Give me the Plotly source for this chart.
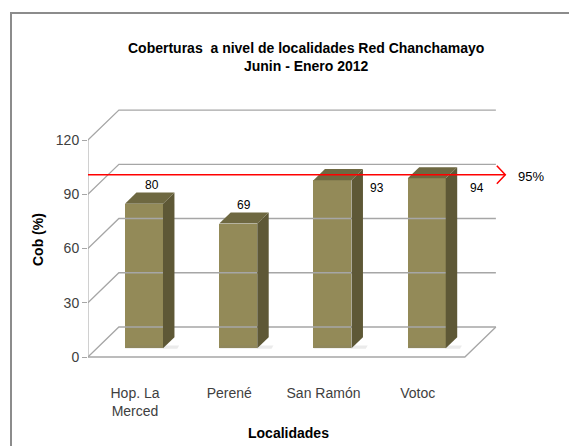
import plotly.graph_objects as go

# ---------------- data ----------------
categories = ["Hop. La<br>Merced", "Perené", "San Ramón", "Votoc"]
values = [80, 69, 93, 94]
target = 95
y_ticks = [0, 30, 60, 90, 120]
title_lines = ["Coberturas  a nivel de localidades Red Chanchamayo", "Junin - Enero 2012"]

# ---------------- geometry (pixel design -> data units) ----------------
OFF = 8                                  # page body margin
W, H = 577 - OFF, 446 - OFF
L, R, T, B = 88 - OFF, 560 - OFF, 100 - OFF, 360 - OFF   # plot area in figure pixels
PX_X = 94.25                            # pixels per category
PX_Y = 1.808                            # pixels per y unit
X0_PIX, Y0_PIX = 135 - OFF, 357 - OFF   # pixel of x=0, y=0
xr = [(L - X0_PIX) / PX_X, (R - X0_PIX) / PX_X]
yr = [(Y0_PIX - B) / PX_Y, (Y0_PIX - T) / PX_Y]
dX = 31 / PX_X                          # wall depth in x units
dY = 30 / PX_Y                          # wall depth in y units
f0, f1 = 0.29, 0.66                     # bar depth span
bw = 38 / PX_X                          # bar width
ymax = y_ticks[-1]
n = len(categories)
xl, xrt = -0.5, n - 0.5

FRONT = "#938A58"
SIDE = "#5E5836"
TOP = "#6E6841"
GRID = "#A6A6A6"
FONT = "Liberation Sans Narrow, Arial Narrow, Liberation Sans, Arial"


def px(xp):
    return (xp - OFF - L) / (R - L)


def py(yp):
    return (B - (yp - OFF)) / (B - T)


fig = go.Figure()


def line(xs, ys, color=GRID, width=1.3):
    fig.add_trace(go.Scatter(x=xs, y=ys, mode="lines", line=dict(color=color, width=width),
                             hoverinfo="skip", showlegend=False))


# walls / gridlines
for v in y_ticks:
    line([xl, xl + dX, xrt + dX], [v, v + dY, v + dY])
line([xl, xrt, xrt + dX], [0, 0, dY])
line([xl, xl], [0, ymax])

# bar shadows (soft)
for i, v in enumerate(values):
    xs = [i - bw / 2 + f0 * dX, i + bw / 2 + f1 * dX + 0.03, i + bw / 2 + f1 * dX + 0.05,
          i - bw / 2 + f0 * dX + 0.02]
    ys = [f0 * dY - 0.3, f0 * dY - 0.3, f0 * dY + 1.5, f0 * dY + 1.5]
    fig.add_trace(go.Scatter(x=xs, y=ys, fill="toself", mode="lines", line=dict(width=0),
                             fillcolor="rgba(120,120,120,0.15)", hoverinfo="skip", showlegend=False))

# bar front faces
fig.add_trace(go.Bar(x=[i + f0 * dX for i in range(n)], y=values, base=[f0 * dY] * n,
                     width=bw, marker=dict(color=FRONT, line=dict(width=0)),
                     hoverinfo="skip", showlegend=False))

# side and top faces
for i, v in enumerate(values):
    xa = i - bw / 2
    xb = i + bw / 2
    side_x = [xb + f0 * dX, xb + f1 * dX, xb + f1 * dX, xb + f0 * dX]
    side_y = [f0 * dY, f1 * dY, v + f1 * dY, v + f0 * dY]
    fig.add_trace(go.Scatter(x=side_x, y=side_y, fill="toself", mode="lines", line=dict(width=0),
                             fillcolor=SIDE, hoverinfo="skip", showlegend=False))
    top_x = [xa + f0 * dX, xa + f1 * dX, xb + f1 * dX, xb + f0 * dX]
    top_y = [v + f0 * dY, v + f1 * dY, v + f1 * dY, v + f0 * dY]
    fig.add_trace(go.Scatter(x=top_x, y=top_y, fill="toself", mode="lines", line=dict(width=0),
                             fillcolor=TOP, hoverinfo="skip", showlegend=False))

# target red line with open arrow
ty = target + 0.35 * dY
tx_end = xrt + dX + 0.1
line([xl, tx_end], [ty, ty], color="#FF0000", width=1.5)
line([tx_end - 0.09, tx_end, tx_end - 0.09], [ty + 5, ty, ty - 5], color="#FF0000", width=1.5)

annotations = []
annotations.append(dict(x=tx_end + 0.11, y=ty - 1, text=f"{target}%", showarrow=False,
                        xanchor="left", yanchor="middle",
                        font=dict(size=13, color="#000", family="Liberation Sans, Arial")))

# data labels
label_offsets = [(0.18, 15), (0.16, 15), (0.57, 0.5), (0.63, -0.5)]
for i, v in enumerate(values):
    ox, oy = label_offsets[i]
    annotations.append(dict(x=i + ox, y=v + oy, text=str(v), showarrow=False,
                            xanchor="center", yanchor="middle",
                            font=dict(size=12, color="#000", family="Liberation Sans, Arial")))

# axis titles
annotations.append(dict(xref="paper", yref="paper", x=px(38), y=py(240),
                        xanchor="center", yanchor="middle",
                        text="<b>Cob (%)</b>", textangle=-90, showarrow=False,
                        font=dict(size=14, color="#000", family=FONT)))
annotations.append(dict(xref="paper", yref="paper", x=px(288), y=py(433),
                        xanchor="center", yanchor="middle",
                        text="<b>Localidades</b>", showarrow=False,
                        font=dict(size=14, color="#000", family=FONT)))
# chart title
annotations.append(dict(xref="paper", yref="paper", x=px(306), y=py(57),
                        xanchor="center", yanchor="middle",
                        text="<b>" + "<br>".join(title_lines) + "</b>", showarrow=False,
                        font=dict(size=14, color="#000", family=FONT)))

# outer border
shapes = [dict(type="rect", xref="paper", yref="paper",
               x0=px(11), x1=px(600), y0=py(470), y1=py(13),
               line=dict(color="#8C8C8C", width=2), fillcolor="rgba(0,0,0,0)")]

fig.update_layout(
    width=W, height=H,
    margin=dict(l=L, r=W - R, t=T, b=H - B),
    plot_bgcolor="white", paper_bgcolor="white",
    annotations=annotations, shapes=shapes,
    bargap=0,
    xaxis=dict(range=xr, tickvals=list(range(n)), ticktext=categories, showgrid=False,
               zeroline=False, showline=False, ticks="outside", ticklen=20,
               tickcolor="rgba(0,0,0,0)", tickfont=dict(size=14, color="#404040", family=FONT)),
    yaxis=dict(range=yr, tickvals=y_ticks, showgrid=False, zeroline=False, showline=False,
               ticks="outside", ticklen=5, tickcolor=GRID, tickwidth=1.3,
               tickfont=dict(size=14, color="#404040", family=FONT)),
)

fig.write_html("out.html")
